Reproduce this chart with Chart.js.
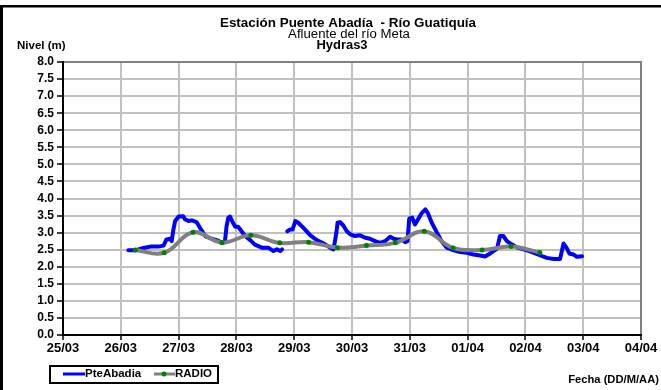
<!DOCTYPE html>
<html>
<head>
<meta charset="utf-8">
<script src="https://cdn.jsdelivr.net/npm/chart.js@4.4.1/dist/chart.umd.min.js"></script>
<style>
  body { margin: 0; background: #fff; }
  canvas { display: block; }
</style>
</head>
<body>
<canvas id="nivelChart" width="661" height="390"></canvas>
<script>
// days counted from 25/03 00:00
const dayLabels = ['25/03', '26/03', '27/03', '28/03', '29/03', '30/03', '31/03', '01/04', '02/04', '03/04', '04/04'];

const abadiaTimes = [1.13, 1.25, 1.39, 1.51, 1.65, 1.74, 1.79, 1.85, 1.88, 1.91, 1.94, 2.00, 2.08, 2.11, 2.17, 2.23, 2.31, 2.37, 2.46, 2.57,
  2.66, 2.75, 2.80, 2.83, 2.86, 2.89, 2.94, 2.98, 3.03, 3.09, 3.15, 3.24, 3.32, 3.44, 3.55, 3.64, 3.70, 3.76, 3.79, 3.83,
  3.88, 3.93, 3.97, 4.02, 4.07, 4.16, 4.28, 4.39, 4.51, 4.62, 4.68, 4.73, 4.75, 4.79, 4.85, 4.91, 4.97, 5.05, 5.14, 5.23,
  5.31, 5.40, 5.49, 5.57, 5.66, 5.72, 5.78, 5.86, 5.92, 5.96, 5.99, 6.04, 6.09, 6.15, 6.21, 6.27, 6.31, 6.38, 6.47, 6.55,
  6.64, 6.76, 6.87, 6.99, 7.10, 7.22, 7.30, 7.39, 7.51, 7.56, 7.62, 7.68, 7.77, 7.86, 7.97, 8.08, 8.26, 8.37, 8.49, 8.60,
  8.66, 8.71, 8.76, 8.83, 8.89, 8.98];
const abadiaLevels = [2.48, 2.48, 2.55, 2.59, 2.59, 2.62, 2.80, 2.82, 2.75, 3.09, 3.34, 3.47, 3.48, 3.39, 3.34, 3.36, 3.31, 3.14, 2.90, 2.82,
  2.78, 2.70, 2.72, 3.19, 3.44, 3.47, 3.29, 3.17, 3.17, 3.04, 2.90, 2.78, 2.65, 2.56, 2.56, 2.46, 2.51, 2.46, 2.51, null,
  3.04, 3.09, 3.09, 3.34, 3.29, 3.14, 2.92, 2.78, 2.68, 2.56, 2.51, 3.00, 3.29, 3.31, 3.21, 3.04, 2.95, 2.90, 2.92, 2.85,
  2.82, 2.75, 2.70, 2.75, 2.88, 2.82, 2.80, 2.80, 2.72, 2.75, 3.41, 3.44, 3.24, 3.41, 3.58, 3.68, 3.58, 3.29, 3.00, 2.75,
  2.56, 2.48, 2.43, 2.41, 2.36, 2.33, 2.30, 2.39, 2.53, 2.90, 2.90, 2.75, 2.65, 2.56, 2.51, 2.45, 2.33, 2.26, 2.23, 2.23,
  2.68, 2.56, 2.39, 2.36, 2.29, 2.31];

const radioTimes = [1.25, 1.75, 2.25, 2.75, 3.25, 3.75, 4.25, 4.75, 5.25, 5.75, 6.25, 6.75, 7.25, 7.75, 8.25];
const radioLevels = [2.49, 2.41, 3.01, 2.71, 2.92, 2.70, 2.72, 2.56, 2.62, 2.70, 3.04, 2.55, 2.49, 2.59, 2.42];

const titleLines = ['Estación Puente Abadía  - Río Guatiquía', 'Afluente del río Meta', 'Hydras3'];
const yAxisTitle = 'Nivel (m)';
const xAxisTitle = 'Fecha (DD/M/AA)';

const FONT = 'Arial, "Liberation Sans", sans-serif';

function toPoints(xs, ys) {
  return xs.map((x, i) => ({ x: x, y: ys[i] }));
}

// the original picture has its text a bit wider than normal Arial
function wideText(c, text, x, y, font, align, sx) {
  c.save();
  c.font = font;
  c.textAlign = align;
  c.textBaseline = 'middle';
  c.translate(x, y);
  c.scale(sx, 1);
  c.fillText(text, 0, 0);
  c.restore();
}

const extras = {
  id: 'extras',
  beforeDraw(chart) {
    const c = chart.ctx;
    c.save();
    c.fillStyle = '#fff';
    c.fillRect(0, 0, chart.width, chart.height);
    c.restore();
  },
  beforeDatasetsDraw(chart) {
    const c = chart.ctx;
    const a = chart.chartArea;
    c.save();
    c.lineWidth = 2;
    c.strokeStyle = '#808080';
    c.beginPath();
    c.moveTo(a.left, a.top);
    c.lineTo(a.right, a.top);
    c.lineTo(a.right, a.bottom);
    c.stroke();
    c.strokeStyle = '#000';
    c.beginPath();
    c.moveTo(a.left, a.top - 1);
    c.lineTo(a.left, a.bottom);
    c.lineTo(a.right + 1, a.bottom);
    c.stroke();
    c.restore();
  },
  afterDraw(chart) {
    const c = chart.ctx;
    c.save();
    // outer frame (top and left)
    c.fillStyle = '#000';
    c.fillRect(0, 5, chart.width, 2.5);
    c.fillRect(0, 5, 3, chart.height);

    // titles
    wideText(c, titleLines[0], 348, 23.5, 'bold 12px ' + FONT, 'center', 1.12);
    wideText(c, titleLines[1], 349, 35, '12px ' + FONT, 'center', 1.1);
    wideText(c, titleLines[2], 342, 46, 'bold 12px ' + FONT, 'center', 1.08);

    wideText(c, yAxisTitle, 17, 46, 'bold 10px ' + FONT, 'left', 1.15);
    wideText(c, xAxisTitle, 659, 380, 'bold 10px ' + FONT, 'right', 1.12);

    // legend
    const ds = chart.data.datasets;
    c.lineWidth = 2;
    c.strokeStyle = '#000';
    c.strokeRect(50, 366, 168, 17);
    c.lineWidth = 3;
    c.strokeStyle = ds[0].borderColor;
    c.beginPath();
    c.moveTo(63, 374);
    c.lineTo(85, 374);
    c.stroke();
    wideText(c, ds[0].label, 85, 374, 'bold 10px ' + FONT, 'left', 1.15);
    c.strokeStyle = ds[1].borderColor;
    c.beginPath();
    c.moveTo(154, 374);
    c.lineTo(175, 374);
    c.stroke();
    c.fillStyle = ds[1].pointBackgroundColor;
    c.beginPath();
    c.arc(164, 374, 2.5, 0, Math.PI * 2);
    c.fill();
    c.fillStyle = '#000';
    wideText(c, ds[1].label, 175, 374, 'bold 10px ' + FONT, 'left', 1.15);
    c.restore();
  }
};

const ctx = document.getElementById('nivelChart');
const myChart = new Chart(ctx, {
  type: 'line',
  data: {
    datasets: [
      {
        label: 'PteAbadia',
        data: toPoints(abadiaTimes, abadiaLevels),
        borderColor: '#0000ff',
        borderWidth: 4,
        borderJoinStyle: 'round',
        borderCapStyle: 'round',
        pointRadius: 0,
        tension: 0,
        spanGaps: false,
        order: 2
      },
      {
        label: 'RADIO',
        data: toPoints(radioTimes, radioLevels),
        borderColor: '#808080',
        borderWidth: 4,
        borderCapStyle: 'round',
        pointRadius: 2.5,
        pointBorderWidth: 0,
        pointBackgroundColor: '#008000',
        tension: 0.4,
        order: 1
      }
    ]
  },
  options: {
    responsive: false,
    animation: false,
    layout: { padding: { left: 8, top: 62, right: 20, bottom: 30 } },
    plugins: {
      legend: { display: false },
      tooltip: { enabled: false }
    },
    scales: {
      x: {
        type: 'linear',
        min: 0,
        max: 10,
        afterFit: s => { s.height = 25; },
        afterBuildTicks: s => { s.ticks = dayLabels.map((l, i) => ({ value: i })); },
        ticks: {
          stepSize: 1,
          color: '#000',
          font: { family: FONT, size: 13, weight: 'bold' },
          padding: 1,
          maxRotation: 0,
          autoSkip: false,
          callback: v => dayLabels[v]
        },
        grid: { color: '#c0c0c0', lineWidth: 2, tickColor: '#000', tickLength: 5, tickWidth: 1.5 },
        border: { display: false }
      },
      y: {
        min: 0,
        max: 8,
        afterFit: s => { s.width = 55; },
        ticks: {
          stepSize: 0.5,
          color: '#000',
          font: { family: FONT, size: 12, weight: 'bold' },
          padding: 3,
          autoSkip: false,
          callback: v => v.toFixed(1)
        },
        grid: { color: '#c0c0c0', lineWidth: 2, tickColor: '#000', tickLength: 6, tickWidth: 1.5 },
        border: { display: false }
      }
    }
  },
  plugins: [extras]
});
</script>
</body>
</html>
